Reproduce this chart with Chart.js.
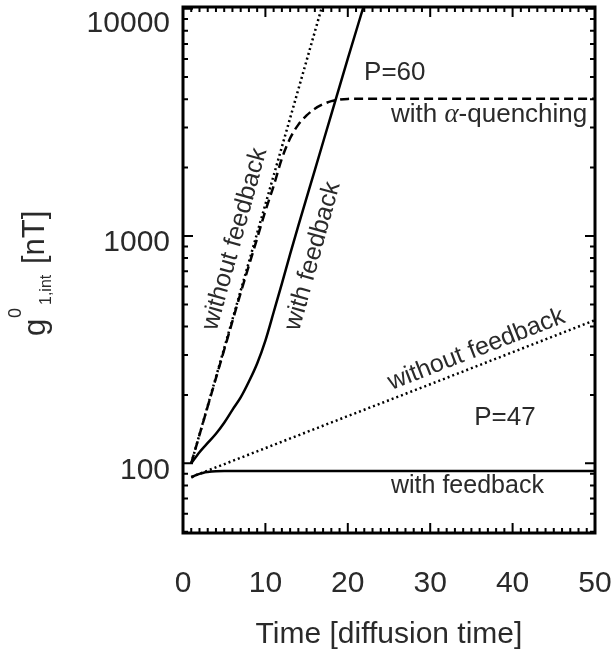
<!DOCTYPE html>
<html><head><meta charset="utf-8">
<script src="https://cdn.jsdelivr.net/npm/chart.js@4/dist/chart.umd.min.js"></script>
<style>html,body{margin:0;padding:0;background:#fff;}</style>
</head><body>
<canvas id="c" width="616" height="650"></canvas>
<script>
// ---- data ----
const timeP60Free = [1, 5, 9, 13, 17];
const p60WithoutFeedback = [100, 321, 1030, 3300, 10600];
const timeP60Quench = [1, 3, 5, 7, 9, 10, 11, 12, 13, 14, 15, 16, 17, 18, 19, 20, 22, 25, 30, 40, 50];
const p60AlphaQuenching = [100, 178, 316, 562, 977, 1290, 1660, 2190, 2690, 3090, 3390, 3630, 3800, 3920, 3980, 4010, 4020, 4020, 4020, 4020, 4020];
const timeP60Feedback = [1, 2, 3, 4, 5, 6, 7, 8, 9, 10, 11, 12, 13, 14, 16, 18, 20, 22, 23];
const p60WithFeedback = [100, 112, 123, 135, 151, 172, 195, 229, 275, 347, 462, 617, 832, 1110, 1950, 3430, 6030, 10470, 13800];
const timeP47Free = [1, 10, 20, 30, 40, 50];
const p47WithoutFeedback = [87.1, 116.7, 161.4, 222.8, 308.3, 426.6];
const timeP47Feedback = [1, 1.5, 2, 2.5, 3, 3.5, 4, 5, 10, 20, 30, 40, 50];
const p47WithFeedback = [86.7, 88.5, 89.9, 91.0, 91.6, 92.0, 92.3, 92.5, 92.5, 92.5, 92.5, 92.5, 92.5];
const xTickValues = [0, 10, 20, 30, 40, 50];
const yTickValues = [100, 1000, 10000];

const FAM = "'Liberation Sans', Arial, Helvetica, sans-serif";
const TXT = '#2a2a2a';
const pts = (xs, ys) => xs.map((x, i) => ({x, y: ys[i]}));

function ds(xs, ys, dash, mono) {
  return {
    data: pts(xs, ys), borderColor: '#000', borderWidth: 2.5, pointRadius: 0,
    borderDash: dash, fill: false, tension: 0,
    cubicInterpolationMode: mono ? 'monotone' : 'default'
  };
}

function rotText(ctx, text, x, y, deg, size) {
  ctx.save();
  ctx.translate(x, y);
  ctx.rotate(deg * Math.PI / 180);
  ctx.font = size + 'px ' + FAM;
  ctx.textAlign = 'center';
  ctx.textBaseline = 'middle';
  ctx.fillText(text, 0, 0);
  ctx.restore();
}

const framePlugin = {
  id: 'frame',
  beforeDraw(chart) {
    // nudge the top "10000" label down inside the frame, as in the reference
    const y = chart.scales.y;
    const items = y.getLabelItems(chart.chartArea);
    items.forEach(it => {
      if (it.label === '10000' && !it._nudged) {
        it.options.translation[1] += 8;
        it._nudged = true;
      }
    });
  },
  afterDatasetsDraw(chart) {
    const {ctx, chartArea: a, scales: {x, y}} = chart;
    ctx.save();
    ctx.strokeStyle = '#000';
    ctx.lineWidth = 2;
    ctx.beginPath();
    for (let d = 1; d <= 4; d++) {
      for (let k = 1; k <= 9; k++) {
        const v = k * Math.pow(10, d);
        if (v < y.min || v > y.max) continue;
        const py = y.getPixelForValue(v);
        const len = k === 1 ? 10 : 5;
        ctx.moveTo(a.left, py); ctx.lineTo(a.left + len, py);
        ctx.moveTo(a.right, py); ctx.lineTo(a.right - len, py);
      }
    }
    for (let t = 0; t <= 50; t++) {
      const px = x.getPixelForValue(t);
      const len = t % 10 === 0 ? 10 : 5;
      ctx.moveTo(px, a.bottom); ctx.lineTo(px, a.bottom - len);
      ctx.moveTo(px, a.top); ctx.lineTo(px, a.top + len);
    }
    ctx.stroke();
    ctx.lineWidth = 3;
    ctx.strokeRect(a.left, a.top, a.right - a.left, a.bottom - a.top);

    ctx.fillStyle = TXT;
    ctx.font = '26px ' + FAM;
    ctx.textAlign = 'center';
    ctx.textBaseline = 'alphabetic';
    ctx.fillText('P=60', x.getPixelForValue(25.7), y.getPixelForValue(4857));
    ctx.fillText('P=47', x.getPixelForValue(39.07), y.getPixelForValue(147.4));
    ctx.font = '25px ' + FAM;
    ctx.fillText('with feedback', x.getPixelForValue(34.52), y.getPixelForValue(74.0));

    {
      const cx = x.getPixelForValue(37.15), by = y.getPixelForValue(3180);
      const f1 = '26px ' + FAM, f2 = 'italic 27px "Liberation Serif", "DejaVu Serif", serif';
      ctx.font = f1; const w1 = ctx.measureText('with ').width; const w3 = ctx.measureText('-quenching').width;
      ctx.font = f2; const w2 = ctx.measureText('\u03b1').width;
      let sx = cx - (w1 + w2 + w3) / 2;
      ctx.textAlign = 'left';
      ctx.font = f1; ctx.fillText('with ', sx, by); sx += w1;
      ctx.font = f2; ctx.fillText('\u03b1', sx, by); sx += w2;
      ctx.font = f1; ctx.fillText('-quenching', sx, by);
    }

    const x1 = x.getPixelForValue(timeP47Free[0]), y1 = y.getPixelForValue(p47WithoutFeedback[0]);
    const x2 = x.getPixelForValue(timeP47Free[timeP47Free.length - 1]), y2 = y.getPixelForValue(p47WithoutFeedback[p47WithoutFeedback.length - 1]);
    const ang47 = Math.atan2(y2 - y1, x2 - x1) * 180 / Math.PI;
    rotText(ctx, 'without feedback', x.getPixelForValue(35.6), y.getPixelForValue(292) - 8, ang47, 25);
    rotText(ctx, 'without feedback', x.getPixelForValue(6.29), y.getPixelForValue(970), -74.5, 25);
    rotText(ctx, 'with feedback', x.getPixelForValue(15.76), y.getPixelForValue(817), -74.5, 25);

    ctx.save();
    ctx.rotate(-Math.PI / 2);
    ctx.textAlign = 'left';
    ctx.textBaseline = 'alphabetic';
    ctx.font = '31px ' + FAM;
    ctx.fillText('g', -336, 45);
    ctx.font = '18px ' + FAM;
    ctx.fillText('0', -318, 21);
    ctx.font = '16px ' + FAM;
    ctx.fillText('1,int', -305, 51);
    ctx.font = '31px ' + FAM;
    ctx.fillText('[nT]', -264, 44);
    ctx.restore();

    ctx.restore();
  }
};

new Chart(document.getElementById('c'), {
  type: 'line',
  data: {
    datasets: [
      ds(timeP60Free, p60WithoutFeedback, [2, 3], false),
      ds(timeP60Quench, p60AlphaQuenching, [9, 5], true),
      ds(timeP60Feedback, p60WithFeedback, [], true),
      ds(timeP47Free, p47WithoutFeedback, [2, 3], false),
      ds(timeP47Feedback, p47WithFeedback, [], true)
    ]
  },
  options: {
    responsive: false,
    animation: false,
    devicePixelRatio: 1,
    layout: {padding: {left: 0, right: 21, top: 7, bottom: 0}},
    plugins: {legend: {display: false}, tooltip: {enabled: false}},
    scales: {
      x: {
        type: 'linear', min: 0, max: 50,
        afterBuildTicks: s => { s.ticks = xTickValues.map(v => ({value: v})); },
        ticks: {font: {family: FAM, size: 30}, color: TXT, padding: 33, maxRotation: 0, autoSkip: false},
        grid: {display: false, drawTicks: false},
        border: {display: false},
        title: {display: true, text: 'Time [diffusion time]', color: TXT,
                font: {family: FAM, size: 30, lineHeight: 1}, padding: {top: 0, bottom: 0}},
        afterFit: s => { s.height = 117; s.paddingLeft = 0; s.paddingRight = 0; }
      },
      y: {
        type: 'logarithmic', min: 49.4, max: 10170,
        afterBuildTicks: s => { s.ticks = yTickValues.map(v => ({value: v})); },
        ticks: {font: {family: FAM, size: 30}, color: TXT, padding: 13, labelOffset: 7,
                callback: v => String(v), autoSkip: false},
        grid: {display: false, drawTicks: false},
        border: {display: false},
        afterFit: s => { s.width = 183; s.paddingTop = 0; s.paddingBottom = 0; }
      }
    }
  },
  plugins: [framePlugin]
});
</script>
</body></html>
